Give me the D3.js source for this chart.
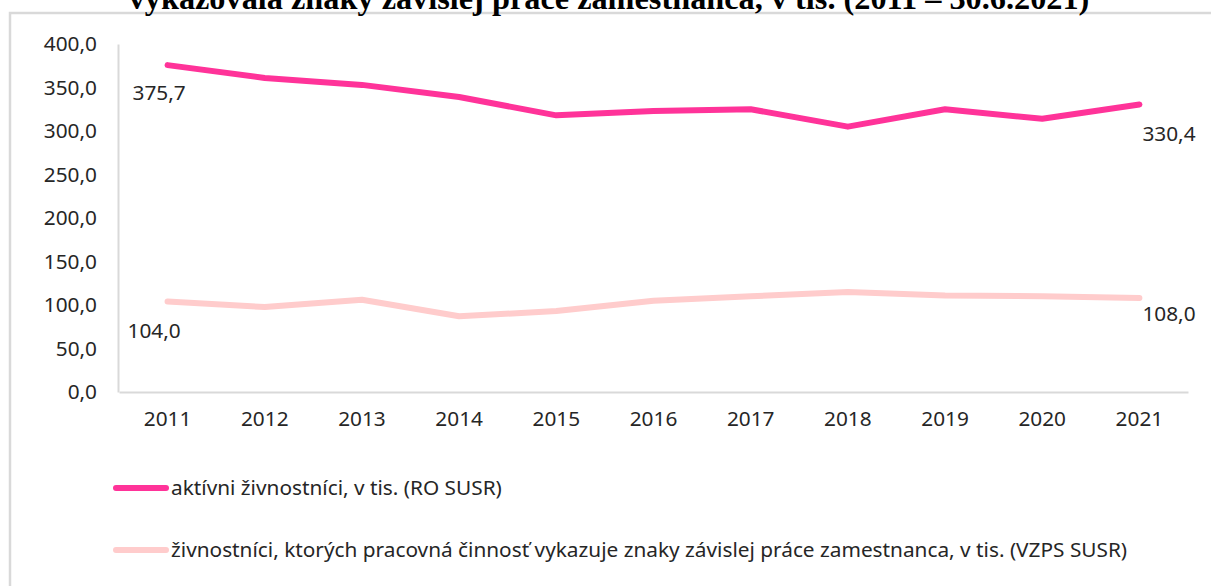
<!DOCTYPE html>
<html><head><meta charset="utf-8">
<script src="https://cdn.jsdelivr.net/npm/d3@7"></script>
<style>body{margin:0;background:#fff}svg{display:block}</style>
</head><body>
<svg id="c" width="1211" height="586"></svg>
<script>
const years = ["2011","2012","2013","2014","2015","2016","2017","2018","2019","2020","2021"];
const activeTraders = [375.7,361,353,339,318,323,325,305,325,314,330.4];
const dependentTraders = [104.0,97.7,106,87,93,105,110,115,111,110,108.0];
const yTicks = [0,50,100,150,200,250,300,350,400];
const seriesNames = ["aktívni živnostníci, v tis. (RO SUSR)","živnostníci, ktorých pracovná činnosť vykazuje znaky závislej práce zamestnanca, v tis. (VZPS SUSR)"];
const titleText = "vykazovala znaky závislej práce zamestnanca, v tis. (2011 – 30.6.2021)";
const colors = ["#FF3399","#FFCCCC"];

const svg = d3.select("#c");
const font = "'Noto Sans', sans-serif";
const fs = 20.8;
const fmt = v => d3.format(".1f")(v).replace(".", ",");

// frame
svg.append("rect").attr("x",10).attr("y",13).attr("width",1230).attr("height",600)
  .attr("fill","#fff").attr("stroke","#d9d9d9").attr("stroke-width",2.5);

// title (partially clipped at top, as in the reference)
svg.append("text").attr("x",609).attr("y",9).attr("text-anchor","middle")
  .attr("font-family","'Liberation Serif', serif").attr("font-weight","bold").attr("font-size",32.3)
  .attr("fill","#000").text(titleText);

const x = d3.scaleBand().domain(years).range([119,1188]);
const y = d3.scaleLinear().domain([0,400]).range([392,44]);

// axes
const xa = svg.append("g").attr("transform","translate(0,392)")
  .call(d3.axisBottom(x).tickSize(0).tickPadding(19));
xa.select(".domain").attr("stroke","#d9d9d9").attr("stroke-width",2);
xa.selectAll("text").attr("font-family",font).attr("font-size",fs).attr("fill","#262626");

const ya = svg.append("g").attr("transform","translate(118,0)")
  .call(d3.axisLeft(y).tickValues(yTicks).tickFormat(fmt).tickSize(0).tickPadding(21));
ya.select(".domain").attr("stroke","#d9d9d9").attr("stroke-width",2);
ya.selectAll("text").attr("font-family",font).attr("font-size",fs).attr("fill","#262626");

const line = d3.line().x((d,i)=>x(years[i])+x.bandwidth()/2).y(d=>y(d));
[activeTraders, dependentTraders].forEach((s,k)=>{
  svg.append("path").datum(s).attr("d",line).attr("fill","none")
    .attr("stroke",colors[k]).attr("stroke-width",6).attr("stroke-linejoin","round").attr("stroke-linecap","round");
});

// data labels for first and last
const lab = (v, yr, dx, dy, anchor) => svg.append("text")
  .attr("x", x(yr)+x.bandwidth()/2+dx).attr("y", y(v)+dy)
  .attr("text-anchor",anchor).attr("font-family",font).attr("font-size",fs).attr("fill","#262626").text(fmt(v));
lab(activeTraders[0], years[0], -35, 35, "start");
lab(dependentTraders[0], years[0], -40, 36, "start");
lab(activeTraders[10], years[10], 3, 36, "start");
lab(dependentTraders[10], years[10], 3, 23, "start");

// legend
const ly = [488, 550];
seriesNames.forEach((n,k)=>{
  svg.append("line").attr("x1",116).attr("x2",166).attr("y1",ly[k]).attr("y2",ly[k])
    .attr("stroke",colors[k]).attr("stroke-width",6).attr("stroke-linecap","round");
  svg.append("text").attr("x",171).attr("y",ly[k]+7).attr("font-family",font).attr("font-size",fs)
    .attr("fill","#262626").text(n);
});
</script>
</body></html>
